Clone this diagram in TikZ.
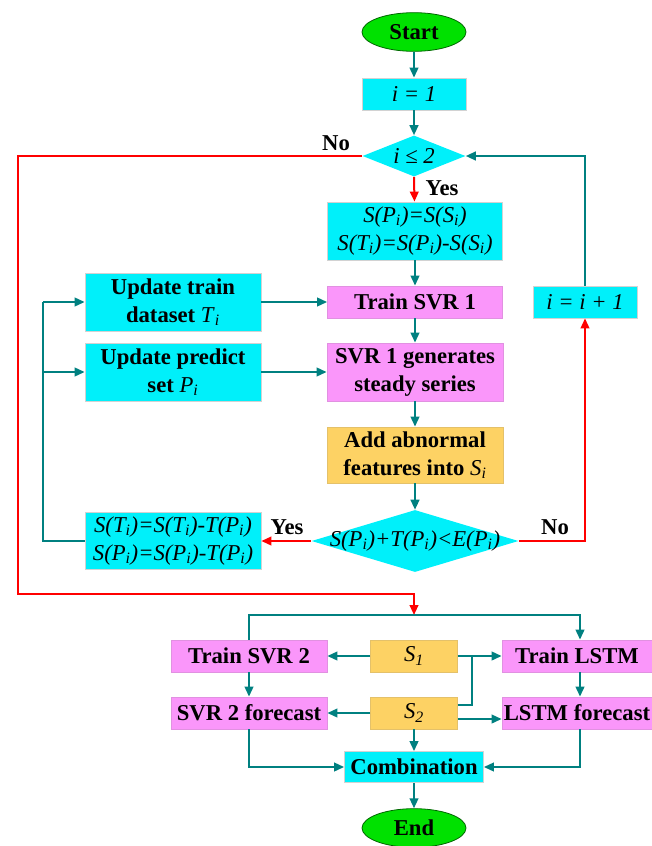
\documentclass[tikz,border=0pt]{standalone}
\usepackage{fontspec}
\setmainfont{Liberation Serif}
\usetikzlibrary{shapes.geometric,arrows.meta}
\definecolor{cyf}{RGB}{0,240,250}
\definecolor{pkf}{RGB}{250,150,250}
\definecolor{orf}{RGB}{253,210,100}
\definecolor{grf}{RGB}{0,225,0}
\definecolor{tl}{RGB}{0,128,128}
\definecolor{rd}{RGB}{255,0,0}
\newcommand\sbi{\textsubscript{\mdseries\textit{i}}}
\tikzset{
  base/.style={inner sep=1pt, align=center, font=\fontsize{17}{21}\selectfont\bfseries},
  cbox/.style={base, rectangle, fill=cyf, draw=gray!35, line width=0.6pt},
  pbox/.style={base, rectangle, fill=pkf, draw=pkf!80!gray, line width=0.6pt},
  obox/.style={base, rectangle, fill=orf, draw=orf!80!gray, line width=0.6pt},
  term/.style={base, ellipse, fill=grf, draw=green!40!black, line width=0.6pt, minimum width=78pt, minimum height=29pt},
  dia/.style={diamond, fill=cyf, draw=none, inner sep=0pt},
  lbl/.style={font=\fontsize{17}{20}\selectfont\bfseries, inner sep=0pt},
  tarr/.style={tl, line width=1.5pt, -{Triangle[length=7.5pt,width=6.5pt]}},
  tline/.style={tl, line width=1.5pt},
  rarr/.style={rd, line width=1.5pt, -{Triangle[length=7.5pt,width=6.5pt]}},
  rline/.style={rd, line width=1.5pt},
}
\begin{document}
\begin{tikzpicture}[x=0.75pt,y=-0.75pt]
\useasboundingbox (0,0) rectangle (651,846);
% top part
\node[term] (start) at (414,32) {Start};
\node[cbox, minimum width=78pt, minimum height=24pt] (i1) at (414,94) {\mdseries\itshape i = 1};
\node[dia, minimum width=77.25pt, minimum height=30.75pt] (d1) at (414,156) {};
\node[base] (d1t) at (414,156) {\mdseries\itshape i ≤ 2};
\node[cbox, minimum width=131.25pt, minimum height=43.5pt] (sb) at (415,231)
  {\mdseries\itshape S(P\sbi)=S(S\sbi)\\ \mdseries\itshape S(T\sbi)=S(P\sbi)-S(S\sbi)};
\node[pbox, minimum width=131.25pt, minimum height=24pt] (tr1) at (415,302) {Train SVR 1};
\node[cbox, minimum width=132pt, minimum height=43.5pt] (ut) at (173,302) {Update train\\ dataset \textit{\mdseries T}\sbi};
\node[cbox, minimum width=78pt, minimum height=24pt] (inc) at (585,302) {\mdseries\itshape i = i + 1};
\node[cbox, minimum width=132pt, minimum height=43.5pt] (up) at (173,372) {Update predict\\ set \textit{\mdseries P}\sbi};
\node[pbox, minimum width=132pt, minimum height=43.5pt] (gen) at (415,372) {SVR 1 generates\\ steady series};
\node[obox, minimum width=132pt, minimum height=42pt] (add) at (415,455) {Add abnormal\\ features into \textit{\mdseries S}\sbi};
\node[dia, minimum width=155.25pt, minimum height=46.5pt] (d2) at (415,541) {};
\node[base] (d2t) at (415,541) {\mdseries\itshape S(P\sbi)+T(P\sbi)<E(P\sbi)};
\node[cbox, minimum width=132pt, minimum height=42.75pt] (st) at (173,541)
  {\mdseries\itshape S(T\sbi)=S(T\sbi)-T(P\sbi)\\ \mdseries\itshape S(P\sbi)=S(P\sbi)-T(P\sbi)};
\node[lbl] (no1) at (336,143) {No};
\node[lbl] (yes1) at (442,188) {Yes};
\node[lbl] (yes2) at (287,527) {Yes};
\node[lbl] (no2) at (555,527) {No};
% bottom part
\node[pbox, minimum width=117pt, minimum height=24pt] (svr2) at (249,656) {Train SVR 2};
\node[obox, minimum width=65.25pt, minimum height=24pt] (s1) at (414,656) {\mdseries\itshape S\textsubscript{1}};
\node[pbox, minimum width=112.5pt, minimum height=24pt] (lstm) at (577,656) {Train LSTM};
\node[pbox, minimum width=117pt, minimum height=24pt] (svr2f) at (249,713) {SVR 2 forecast};
\node[obox, minimum width=65.25pt, minimum height=24pt] (s2) at (414,713) {\mdseries\itshape S\textsubscript{2}};
\node[pbox, minimum width=112.5pt, minimum height=24pt] (lstmf) at (577,713) {LSTM forecast};
\node[cbox, minimum width=104.25pt, minimum height=23.25pt] (comb) at (414,767) {Combination};
\node[term] (end) at (414,828) {End};
\coordinate (rj) at (414,615);
% connectors top
\draw[tarr] (start) -- (i1);
\draw[tarr] (i1) -- (d1.north);
\draw[rarr] (d1.south) -- (sb);
\draw[tarr] (sb) -- (tr1);
\draw[tarr] (ut) -- (tr1);
\draw[tarr] (up) -- (gen);
\draw[tarr] (tr1) -- (gen);
\draw[tarr] (gen) -- (add);
\draw[tarr] (add) -- (d2.north);
\draw[rarr] (d2.west) -- (st.east);
\draw[rarr] (d2.east) -| (inc.south);
\draw[tarr] (inc.north) |- (d1.east);
\draw[tline] (st.west) -| (43,302);
\draw[tarr] (43,302) -- (ut.west |- 0,302);
\draw[tarr] (43,372) -- (up.west);
\draw[rline] (d1.west) -- (18,156) -- (18,594) -| (414,600);
\draw[rarr] (414,594) -- (rj);
% connectors bottom
\draw[tline] (svr2.north) |- (rj);
\draw[tarr] (rj) -| (lstm.north -| 580,0);
\draw[tarr] (s1) -- (svr2);
\draw[tarr] (s1) -- (lstm);
\draw[tline] (s2.east |- 0,705) -| (472,656);
\draw[tarr] (s2.east |- 0,719) -- (lstmf.west |- 0,719);
\draw[tarr] (s2) -- (svr2f);
\draw[tarr] (s2) -- (comb);
\draw[tarr] (svr2) -- (svr2f);
\draw[tarr] (lstm.south -| 580,0) -- (lstmf.north -| 580,0);
\draw[tarr] (svr2f.south) |- (comb.west);
\draw[tarr] (lstmf.south -| 580,0) |- (comb.east);
\draw[tarr] (comb) -- (end);
\end{tikzpicture}
\end{document}
